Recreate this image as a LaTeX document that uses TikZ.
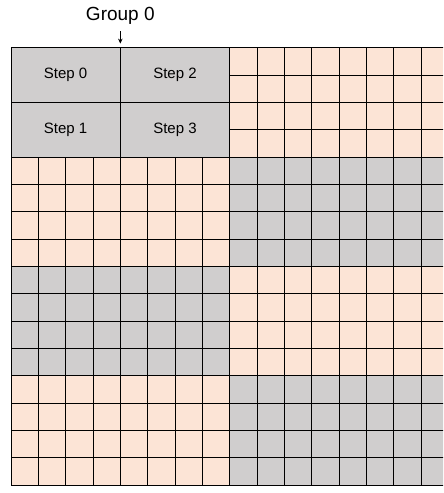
\documentclass[tikz,border=0pt]{standalone}
\usepackage{fontspec}
\setmainfont{Liberation Sans}
\usetikzlibrary{arrows.meta}
\definecolor{cellpeach}{HTML}{FCE4D6}
\definecolor{cellgray}{HTML}{D0CECE}

\begin{document}
\begin{tikzpicture}[
  x=27.33pt,
  y=-27.33pt,
  gridline/.style={black, line width=0.8pt},
  stepbox/.style={rectangle, draw=black, line width=0.8pt, fill=cellgray,
                  minimum width=109.32pt, minimum height=54.66pt,
                  inner sep=0pt, outer sep=0pt,
                  font=\fontsize{15}{18}\selectfont},
  grouplabel/.style={anchor=base, inner sep=6pt,
                     font=\fontsize{19}{22}\selectfont},
  pointer/.style={black, line width=0.8pt, -{Stealth[length=5pt, width=4.5pt]}}
]
  % ---- frame (the grid runs past the right edge) ----
  \useasboundingbox (-0.4025,-1.745) rectangle (15.807,16.293);
  \clip (-0.4025,-1.745) rectangle (15.807,16.293);

  % ---- 8x4 blocks ----
  \foreach \c/\r/\col in {0/0/cellgray, 8/0/cellpeach,
                          0/4/cellpeach, 8/4/cellgray,
                          0/8/cellgray, 8/8/cellpeach,
                          0/12/cellpeach, 8/12/cellgray}
    \fill[\col] (\c,\r) rectangle ++(8,4);

  % ---- cell grid ----
  \foreach \i in {0,...,16} {
    \draw[gridline] (\i,0) -- (\i,16);
    \draw[gridline] (0,\i) -- (16,\i);
  }

  % ---- merged steps (drawn on top of the grid) ----
  \node[stepbox] (step0) at (2,1) {Step 0};
  \node[stepbox] (step2) at (6,1) {Step 2};
  \node[stepbox] (step1) at (2,3) {Step 1};
  \node[stepbox] (step3) at (6,3) {Step 3};

  % ---- group label ----
  \node[grouplabel] (group) at (4,-0.977) {Group 0};
  \coordinate (grouptip) at (4,-0.15);
  \draw[pointer] (group) -- (grouptip);
\end{tikzpicture}
\end{document}
